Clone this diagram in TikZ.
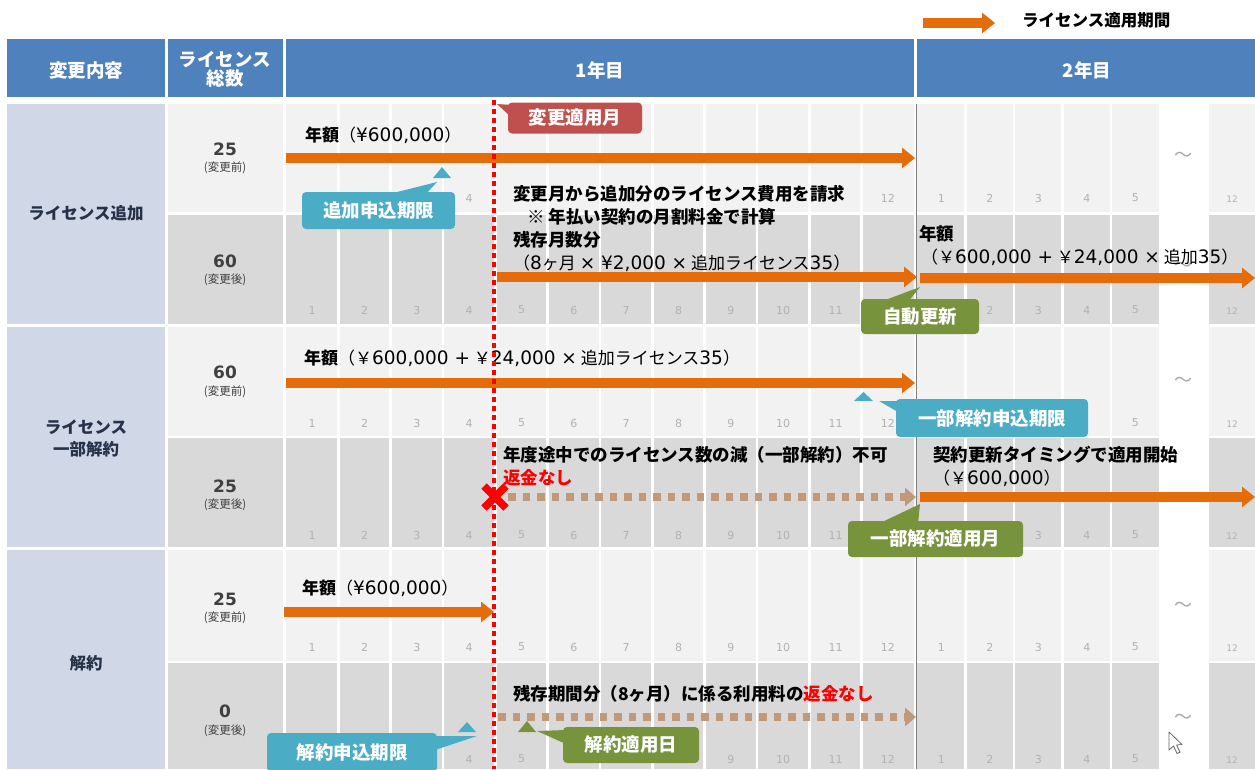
\documentclass[tikz,border=0pt]{standalone}
\usepackage{fontspec}
\setmainfont{Noto Sans CJK JP}
\newfontfamily\vfont{DejaVu Sans}
\newcommand\lt[1]{{\vfont\fontsize{18.5}{20}\selectfont #1}}
\usetikzlibrary{arrows.meta,calc}
\definecolor{hdr}{RGB}{79,129,189}
\definecolor{grp}{RGB}{208,216,232}
\definecolor{rowa}{RGB}{242,242,242}
\definecolor{rowb}{RGB}{217,217,217}
\definecolor{orng}{RGB}{228,108,10}
\definecolor{cteal}{RGB}{75,172,198}
\definecolor{cgreen}{RGB}{119,147,60}
\definecolor{cred}{RGB}{192,80,77}
\definecolor{ctan}{RGB}{192,152,122}
\definecolor{lbl}{RGB}{178,178,178}
\definecolor{navy}{RGB}{38,50,72}
\definecolor{numc}{RGB}{64,64,64}
\definecolor{divl}{RGB}{128,128,128}
\tikzset{
  hdrtext/.style={text=white, font=\bfseries\fontsize{18.5}{22}\selectfont, align=center, inner sep=0pt},
  grptext/.style={text=navy, font=\bfseries\fontsize{16.5}{22}\selectfont, align=center, inner sep=0pt},
  numtext/.style={text=numc, font=\vfont\bfseries\fontsize{17}{20}\selectfont, inner sep=0pt},
  subtext/.style={text=numc, font=\fontsize{11.5}{13}\selectfont, inner sep=0pt},
  mlabel/.style={text=lbl, font=\vfont\fontsize{11}{12}\selectfont, inner sep=0pt},
  slabel/.style={text=lbl, font=\vfont\fontsize{9}{10}\selectfont, inner sep=0pt},
  body/.style={font=\fontsize{17}{20}\selectfont, inner sep=0pt, anchor=west},
  bbody/.style={font=\bfseries\fontsize{17.5}{20}\selectfont, inner sep=0pt, anchor=west},
  callout/.style={rounded corners=4pt, text=white, inner sep=0pt, font=\bfseries\fontsize{18.5}{20}\selectfont},
  oarrow/.style={draw=orng, line width=9.5pt, -{Triangle[length=13pt,width=20pt]}},
  darrow/.style={draw=ctan, line width=7.5pt, dash pattern=on 7.5pt off 7pt, -{Triangle[length=11pt,width=18pt]}},
  tildetext/.style={text=gray!70, font=\fontsize{18}{20}\selectfont, inner sep=0pt},
  redline/.style={draw=red, line width=3.5pt, dash pattern=on 4.5pt off 4.5pt},
}
\begin{document}
\begin{tikzpicture}[x=1pt,y=-1pt]
\useasboundingbox (0,0) rectangle (1255,769);
\fill[white] (0,0) rectangle (1255,769);

% header
\fill[hdr] (7,39) rectangle (165,97);
\fill[hdr] (168,39) rectangle (283,97);
\fill[hdr] (286,39) rectangle (914,97);
\fill[hdr] (917,39) rectangle (1255,97);
\node[hdrtext] (h1) at (86,70) {変更内容};
\node[hdrtext] (h2) at (225,69) {ライセンス\\[-3pt]総数};
\node[hdrtext] (h3) at (600,70) {1年目};
\node[hdrtext] (h4) at (1087,70) {2年目};

% legend
\coordinate (lg1) at (923,23);
\coordinate (lg2) at (995,23);
\draw[oarrow] (lg1) -- (lg2);
\node[font=\bfseries\fontsize{16.5}{20}\selectfont, inner sep=0pt, anchor=west] (lgt) at (1022,20) {ライセンス適用期間};

% group cells
\fill[grp] (7,104) rectangle (165,324);
\fill[grp] (7,327) rectangle (165,546.5);
\fill[grp] (7,550) rectangle (165,769);
\node[grptext] (g1) at (86,213) {ライセンス追加};
\node[grptext] (g2) at (86,438) {ライセンス\\一部解約};
\node[grptext] (g3) at (86,663) {解約};

% rows
\foreach \t/\b/\c in {104/212/rowa, 215/324/rowb, 327/435.5/rowa, 438/546.5/rowb, 550/660.5/rowa, 663/769/rowb}{
  \fill[\c] (168,\t) rectangle (283,\b);
  \fill[\c] (286,\t) rectangle (914,\b);
  \fill[\c] (917,\t) rectangle (1159,\b);
  \fill[\c] (1209,\t) rectangle (1255,\b);
  \foreach \k in {1,...,11}{
    \draw[white, line width=2.4pt] ({286+52.333*\k},\t) -- ({286+52.333*\k},\b);
  }
  \foreach \k in {1,...,4}{
    \draw[white, line width=2.4pt] ({917+48.5*\k},\t) -- ({917+48.5*\k},\b);
  }
}

% license counts
\node[numtext] (n1) at (225,149) {25};
\node[subtext] (s1) at (225,168) {(変更前)};
\node[numtext] (n2) at (225,261) {60};
\node[subtext] (s2) at (225,280) {(変更後)};
\node[numtext] (n3) at (225,372) {60};
\node[subtext] (s3) at (225,392) {(変更前)};
\node[numtext] (n4) at (225,486) {25};
\node[subtext] (s4) at (225,505) {(変更後)};
\node[numtext] (n5) at (225,599) {25};
\node[subtext] (s5) at (225,618) {(変更前)};
\node[numtext] (n6) at (225,711) {0};
\node[subtext] (s6) at (225,731) {(変更後)};

% month labels (year 1); labels hidden under callouts are left out
\foreach \k in {4,12}{
  \node[mlabel] (ma\k) at ({286+52.333*(\k-0.5)},198) {\k};
}
\foreach \k in {1,...,11}{
  \node[mlabel] (mb\k) at ({286+52.333*(\k-0.5)},310) {\k};
}
\foreach \k in {1,...,12}{
  \node[mlabel] (mc\k) at ({286+52.333*(\k-0.5)},423) {\k};
  \node[mlabel] (me\k) at ({286+52.333*(\k-0.5)},647) {\k};
}
\foreach \k in {1,...,11}{
  \node[mlabel] (md\k) at ({286+52.333*(\k-0.5)},535) {\k};
}
\foreach \k in {4,5,9,10,11,12}{
  \node[mlabel] (mf\k) at ({286+52.333*(\k-0.5)},759) {\k};
}
% month labels (year 2)
\foreach \y/\ks in {198/{1,2,3,4,5}, 310/{2,3,4,5}, 423/{5}, 535/{3,4,5}, 647/{1,2,3,4,5}, 759/{1,2,3,4,5}}{
  \foreach \k in \ks{
    \node[mlabel] (n\y-\k) at ({917+48.5*(\k-0.5)},\y) {\k};
  }
  \node[slabel] (t\y) at (1232,\y+1) {12};
}

% tildes
\foreach \y in {157,267,382,607,719}{
  \node[tildetext] (tl\y) at (1183,\y) {～};
}

% year divider
\draw[divl, line width=1pt] (916.5,104) -- (916.5,769);

% arrows
\coordinate (a1s) at (286,158); \coordinate (a1e) at (915,158);
\draw[oarrow] (a1s) -- (a1e);
\coordinate (a2s) at (497,277); \coordinate (a2e) at (917,277);
\draw[oarrow] (a2s) -- (a2e);
\coordinate (a3s) at (920,278); \coordinate (a3e) at (1255,278);
\draw[oarrow] (a3s) -- (a3e);
\coordinate (a4s) at (286,383); \coordinate (a4e) at (915,383);
\draw[oarrow] (a4s) -- (a4e);
\coordinate (a5s) at (508,497); \coordinate (a5e) at (916,497);
\draw[darrow] (a5s) -- (a5e);
\coordinate (a6s) at (920,497); \coordinate (a6e) at (1255,497);
\draw[oarrow] (a6s) -- (a6e);
\coordinate (a7s) at (284,612); \coordinate (a7e) at (494,612);
\draw[oarrow] (a7s) -- (a7e);
\coordinate (a8s) at (498,717); \coordinate (a8e) at (916,717);
\draw[darrow] (a8s) -- (a8e);

% texts
\node[body] (t1) at (305,135.5) {{\bfseries 年額}（\lt{¥600,000}）};
\node[bbody] (t2) at (513,194) {変更月から追加分のライセンス費用を請求};
\node[bbody] (t3) at (527,217) {※ 年払い契約の月割料金で計算};
\node[bbody] (t4) at (513,240) {残存月数分};
\node[body] (t5) at (513,263) {（\lt{8}ヶ月 \lt{× ¥2,000 ×} 追加ライセンス\lt{35}）};
\node[bbody] (t6) at (919,234) {年額};
\node[body] (t7) at (921,257) {（￥\lt{600,000 +} ￥\lt{24,000 ×} 追加\lt{35}）};
\node[body] (t8) at (304,358) {{\bfseries 年額}（￥\lt{600,000 +} ￥\lt{24,000 ×} 追加ライセンス\lt{35}）};
\node[bbody] (t9) at (503,455) {年度途中でのライセンス数の減（一部解約）不可};
\node[bbody, text=red] (t10) at (503,478) {返金なし};
\node[bbody] (t11) at (933,455) {契約更新タイミングで適用開始};
\node[body] (t12) at (933,478) {（￥\lt{600,000}）};
\node[body] (t13) at (302,588.5) {{\bfseries 年額}（\lt{¥600,000}）};
\node[bbody] (t14) at (513,694) {残存期間分（8ヶ月）に係る利用料の\textcolor{red}{返金なし}};

% markers
\fill[cteal] (433,178) -- (451,178) -- (442,167) -- cycle;
\fill[cteal] (854,401) -- (873,401) -- (863.5,392) -- cycle;
\fill[cteal] (458,732) -- (476,732) -- (467,722) -- cycle;
\fill[cgreen] (518,732) -- (536,732) -- (527,721) -- cycle;

% callouts
\fill[cred] (497,104) -- (512,105) -- (512,118) -- cycle;
\node[callout, fill=cred, minimum width=134pt, minimum height=31pt] (c1) at (575,118) {変更適用月};
\fill[cteal] (385,195) -- (437,182) -- (425,195) -- cycle;
\node[callout, fill=cteal, minimum width=153pt, minimum height=37pt] (c2) at (378.5,210.5) {追加申込期限};
\fill[cgreen] (880,302) -- (920,287) -- (908,302) -- cycle;
\node[callout, fill=cgreen, minimum width=118pt, minimum height=35pt] (c3) at (920,316.5) {自動更新};
\fill[cteal] (879,401) -- (900,401) -- (905,416) -- cycle;
\node[callout, fill=cteal, minimum width=192pt, minimum height=38pt] (c4) at (992,418) {一部解約申込期限};
\fill[cgreen] (878,524) -- (920,504) -- (918,524) -- cycle;
\node[callout, fill=cgreen, minimum width=175pt, minimum height=36pt] (c5) at (935.5,539) {一部解約適用月};
\fill[cteal] (430,736) -- (477,736) -- (435,750) -- cycle;
\node[callout, fill=cteal, minimum width=170pt, minimum height=39pt] (c6) at (352,752.5) {解約申込期限};
\fill[cgreen] (566,730) -- (537,731) -- (566,744) -- cycle;
\node[callout, fill=cgreen, minimum width=136pt, minimum height=36pt] (c7) at (631,745) {解約適用日};

% red dotted change line
\coordinate (r1) at (494,100); \coordinate (r2) at (494,769);
\draw[redline] (r1) -- (r2);
% red cross
\coordinate (x0) at (495,497);
\draw[red, line width=7.5pt] ($(x0)+(-11,-11)$) -- ($(x0)+(11,11)$);
\draw[red, line width=7.5pt] ($(x0)+(-11,11)$) -- ($(x0)+(11,-11)$);

% mouse cursor
\draw[fill=white, draw=gray!80!black, line width=0.8pt, line join=round]
  (1169,732) -- (1169,750) -- (1173.5,746) -- (1177,753.5) -- (1180,752.2) -- (1176.6,745) -- (1182,744.5) -- cycle;
\end{tikzpicture}
\end{document}
